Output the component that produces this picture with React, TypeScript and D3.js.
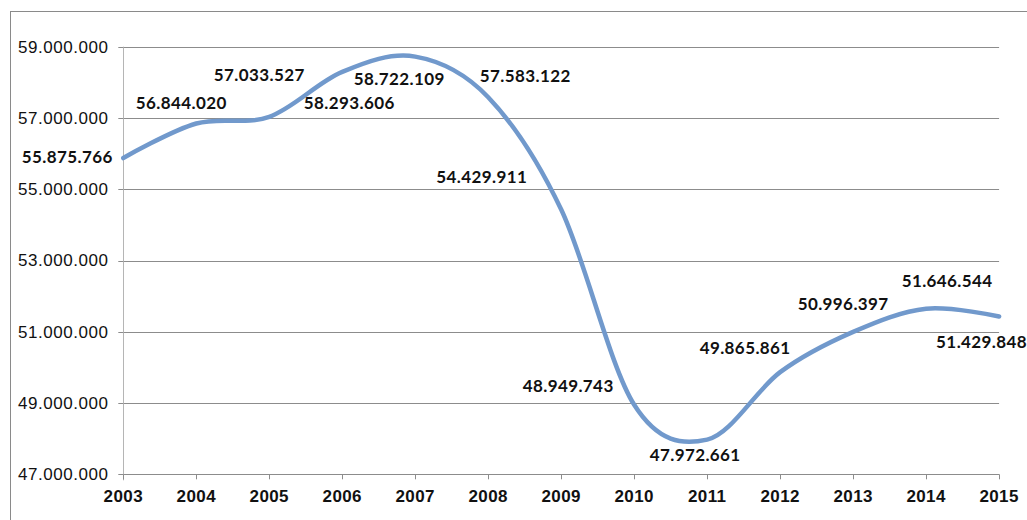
import React from "react";
import * as d3 from "d3";

// Yearly totals, 2003–2015
const years: number[] = [2003, 2004, 2005, 2006, 2007, 2008, 2009, 2010, 2011, 2012, 2013, 2014, 2015];
const totals: number[] = [
  55875766, 56844020, 57033527, 58293606, 58722109, 57583122, 54429911,
  48949743, 47972661, 49865861, 50996397, 51646544, 51429848,
];
const yTicks: number[] = [47000000, 49000000, 51000000, 53000000, 55000000, 57000000, 59000000];

// Hand-placed data label offsets (px from each point to the label centre)
const labelOffsets: [number, number][] = [
  [-56, -1], [-15, -21], [-10, -42], [7, 31], [-16, 22], [37, -21], [-79.5, -33],
  [-66, -19], [-12, 15], [-35, -24], [-10, -28], [21, -28], [-17.5, 25],
];

const W = 1027;
const H = 520;
const plot = { left: 123.3, right: 999.1, top: 46.7, bottom: 474.3 };

const locale = d3.formatLocale({ decimal: ",", thousands: ".", grouping: [3], currency: ["", ""] });
const fmt = locale.format(",d");

export default function App() {
  const x = d3.scaleLinear().domain([2003, 2015]).range([plot.left, plot.right]);
  const y = d3.scaleLinear().domain([47000000, 59000000]).range([plot.bottom, plot.top]);

  const line = d3
    .line<number>()
    .x((_, i) => x(years[i]))
    .y((d) => y(d))
    .curve(d3.curveCatmullRom.alpha(0));

  const grid = "#8c8c8c";

  return (
    <svg
      width={W}
      height={H}
      style={{ position: "fixed", left: 0, top: 0, background: "#fff" }}
    >
      {/* outer chart frame */}
      <rect x={10.5} y={11.5} width={W + 20} height={H + 20} fill="#fff" stroke="#8a8a8a" strokeWidth={1} />

      {/* horizontal gridlines */}
      {yTicks.map((t) => (
        <line key={"g" + t} x1={plot.left} x2={plot.right} y1={Math.round(y(t)) + 0.5} y2={Math.round(y(t)) + 0.5} stroke={grid} strokeWidth={1} />
      ))}

      {/* y axis */}
      <line x1={Math.round(plot.left) + 0.5} x2={Math.round(plot.left) + 0.5} y1={plot.top} y2={plot.bottom + 6} stroke="#b5b5b5" strokeWidth={1} />
      {yTicks.map((t) => (
        <g key={"yt" + t}>
          <line x1={plot.left - 5} x2={plot.left} y1={Math.round(y(t)) + 0.5} y2={Math.round(y(t)) + 0.5} stroke={grid} />
          <text
            x={108.5}
            y={y(t)}
            dy="0.35em"
            textAnchor="end"
            fontFamily="'Liberation Sans', Arial, sans-serif"
            fontSize={17}
            letterSpacing={0.55}
            fill="#111"
          >
            {fmt(t)}
          </text>
        </g>
      ))}

      {/* x axis */}
      {years.map((yr) => (
        <g key={"xt" + yr}>
          <line x1={Math.round(x(yr)) + 0.5} x2={Math.round(x(yr)) + 0.5} y1={plot.bottom} y2={plot.bottom + 5} stroke={grid} />
          <text
            x={x(yr)}
            y={501.5}
            textAnchor="middle"
            fontFamily="'Liberation Sans', Arial, sans-serif"
            fontWeight="bold"
            fontSize={17}
            letterSpacing={0.4}
            fill="#111"
          >
            {yr}
          </text>
        </g>
      ))}

      {/* series line */}
      <path d={line(totals) ?? ""} fill="none" stroke="#7199cc" strokeWidth={4.5} strokeLinecap="round" strokeLinejoin="round" />

      {/* data labels */}
      {totals.map((v, i) => (
        <text
          key={"l" + i}
          x={x(years[i]) + labelOffsets[i][0]}
          y={y(v) + labelOffsets[i][1]}
          dy="0.36em"
          textAnchor="middle"
          fontFamily="Lato, 'Open Sans', sans-serif"
          fontWeight="bold"
          fontSize={17}
          letterSpacing={0.4}
          fill="#111"
        >
          {fmt(v)}
        </text>
      ))}
    </svg>
  );
}
